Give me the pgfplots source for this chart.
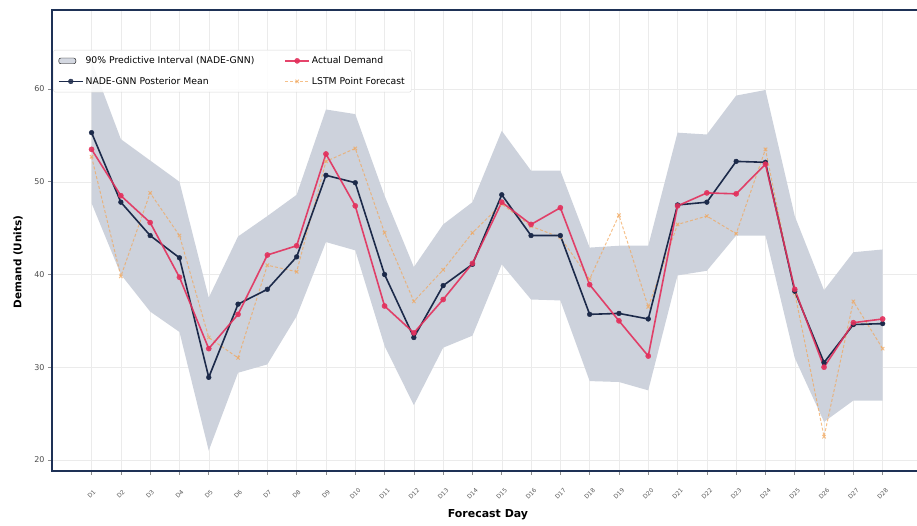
\documentclass[border=0pt]{standalone}
\usepackage{fontspec}
\setmainfont{DejaVu Sans}
\usepackage{pgfplots}
\pgfplotsset{compat=1.18}
\usepackage{pgfplotstable}
\usepgfplotslibrary{fillbetween}

\definecolor{navy}{HTML}{1C2A4A}
\definecolor{crimson}{HTML}{E3305C}
\definecolor{lstm}{HTML}{F2A65A}
\definecolor{band}{HTML}{CDD2DC}
\definecolor{frame}{HTML}{1E3156}

% Forecast days D1..D28 plotted at 0..27
\pgfplotstableread{
idx mean actual lstm lower upper
0  55.3 53.5 52.7 47.7 63.0
1  47.8 48.5 39.8 40.0 54.6
2  44.2 45.6 48.8 36.0 52.3
3  41.8 39.7 44.2 33.8 50.0
4  28.9 32.0 33.2 21.0 37.5
5  36.8 35.7 31.0 29.4 44.1
6  38.4 42.1 41.0 30.3 46.3
7  41.9 43.1 40.3 35.5 48.6
8  50.7 53.0 52.2 43.5 57.8
9  49.9 47.4 53.6 42.6 57.3
10 40.0 36.6 44.5 32.3 48.5
11 33.2 33.7 37.1 25.9 40.8
12 38.8 37.3 40.5 32.1 45.4
13 41.1 41.2 44.5 33.4 47.8
14 48.6 47.8 47.6 41.1 55.5
15 44.2 45.4 45.2 37.3 51.2
16 44.2 47.2 44.0 37.2 51.2
17 35.7 38.9 39.5 28.5 42.9
18 35.8 35.0 46.4 28.4 43.1
19 35.2 31.2 36.5 27.5 43.1
20 47.5 47.4 45.4 39.9 55.3
21 47.8 48.8 46.3 40.4 55.1
22 52.2 48.7 44.4 44.2 59.3
23 52.1 51.9 53.5 44.2 59.9
24 38.2 38.4 38.0 31.0 46.3
25 30.5 30.0 22.5 24.1 38.3
26 34.6 34.8 37.1 26.4 42.4
27 34.7 35.2 32.0 26.4 42.7
}\forecast

\pgfplotsset{
  longhandle/.style={legend image code/.code={%
    \draw[mark repeat=2, mark phase=2] plot coordinates {(0bp,0bp) (12bp,0bp) (24bp,0bp)};}},
  meanline/.style={navy, line width=1.6bp, mark=*, mark size=2.4bp, mark options={line width=0.4bp}},
  actualline/.style={crimson, opacity=0.9, line width=1.6bp, mark=*, mark size=2.6bp, mark options={line width=0.4bp}},
  lstmline/.style={lstm, opacity=0.7, line width=1bp, dash pattern=on 3bp off 2bp, mark=x, mark size=2.4bp, mark options={solid}},
}

\begin{document}
\begin{tikzpicture}
\begin{axis}[
  at={(0,0)}, anchor=south west,
  scale only axis, width=870.2bp, height=460.7bp,
  xmin=-1.35, xmax=28.35, ymin=18.8, ymax=68.5,
  axis line style={frame, line width=2bp},
  xtick={0,...,27},
  xticklabels={D1,D2,D3,D4,D5,D6,D7,D8,D9,D10,D11,D12,D13,D14,D15,D16,D17,D18,D19,D20,D21,D22,D23,D24,D25,D26,D27,D28},
  ytick={20,30,40,50,60},
  tick pos=left, tick align=outside,
  major tick length=4bp,
  every tick/.style={black!45, line width=0.6bp},
  grid=major, grid style={black!8, line width=0.5bp},
  /pgf/number format/assume math mode=true,
  yticklabel style={font=\fontsize{8}{9}\selectfont, text=black!70},
  xticklabel style={font=\fontsize{6}{7}\selectfont, text=black!65, anchor=center, yshift=-19bp, rotate=45},
  xlabel={\bfseries Forecast Day},
  ylabel={\bfseries Demand (Units)},
  xlabel style={font=\fontsize{11}{12}\selectfont, at={(axis description cs:0.501,-0.0955)}, anchor=center},
  ylabel style={font=\fontsize{10.5}{12}\selectfont, at={(axis description cs:-0.039,0.454)}, anchor=center},
  legend columns=2,
  legend cell align=left,
  legend style={at={(axis description cs:0.0015,0.914)}, anchor=north west,
    font=\fontsize{9.3}{10}\selectfont, draw=black!15, fill=white, fill opacity=0.85, text opacity=1,
    rounded corners=2pt, /tikz/row sep=8bp, inner sep=4.5bp,
    /tikz/every even column/.append style={column sep=28bp}},
]
% legend entries, row by row
\addlegendimage{area legend, fill=band, draw=none}
\addlegendentry{90\% Predictive Interval (NADE-GNN)}
\addlegendimage{actualline, longhandle}
\addlegendentry{Actual Demand}
\addlegendimage{meanline, longhandle}
\addlegendentry{NADE-GNN Posterior Mean}
\addlegendimage{lstmline, longhandle}
\addlegendentry{LSTM Point Forecast}

% predictive interval band
\addplot[name path=up, draw=none, forget plot] table[x=idx, y=upper] {\forecast};
\addplot[name path=lo, draw=none, forget plot] table[x=idx, y=lower] {\forecast};
\addplot[fill=band, draw=none, forget plot] fill between[of=up and lo];

% LSTM point forecast
\addplot[lstmline, forget plot] table[x=idx, y=lstm] {\forecast};
% posterior mean
\addplot[meanline, forget plot] table[x=idx, y=mean] {\forecast};
% actual demand
\addplot[actualline, forget plot] table[x=idx, y=actual] {\forecast};
\end{axis}
% page frame: the axis box starts 52bp from the left and 55bp above the bottom
\pgfresetboundingbox
\useasboundingbox (-52bp,-55bp) rectangle (865bp,471bp);
\end{tikzpicture}
\end{document}
